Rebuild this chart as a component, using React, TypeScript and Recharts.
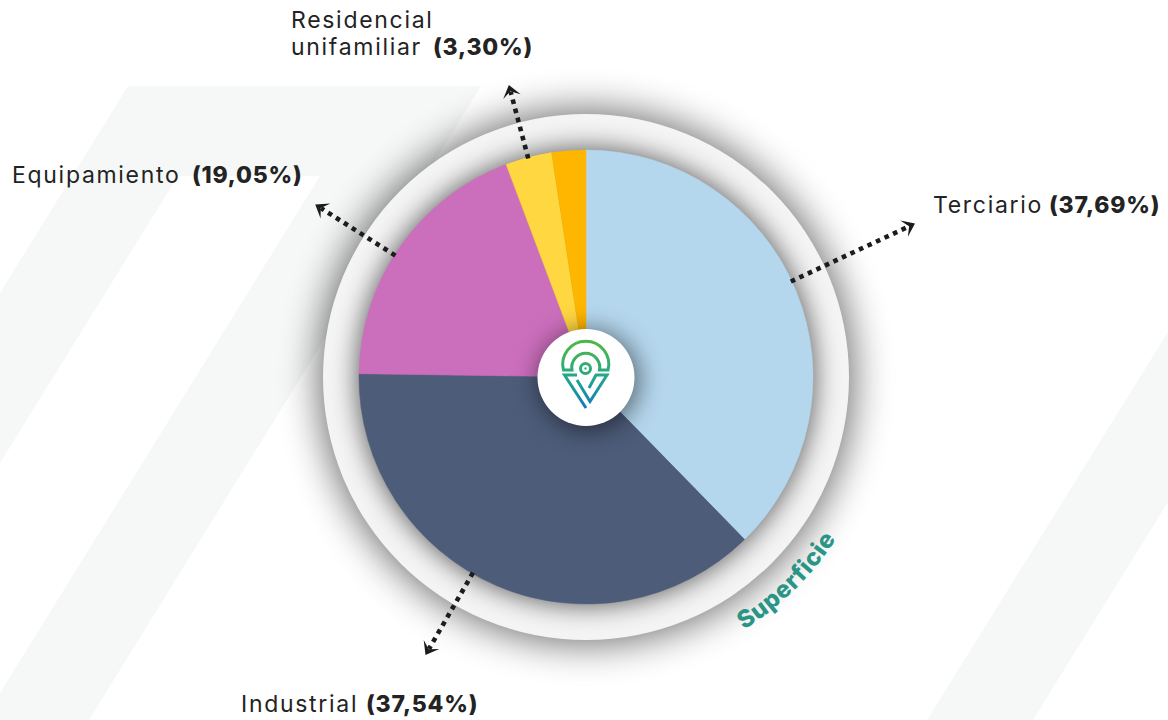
import React from 'react';
import { PieChart, Pie, Cell } from 'recharts';

const sectors = ['Terciario', 'Industrial', 'Equipamiento', 'Residencial unifamiliar', 'Otros'];
const shares = [37.69, 37.54, 19.05, 3.3, 2.42];
const sectorColors = ['#B5D7EE', '#4D5C79', '#CB6EBC', '#FFD740', '#FFB600'];

// Callouts round the pie: angle is clockwise from 12 o'clock
const calloutNames = ['Terciario', 'Industrial', 'Equipamiento', 'unifamiliar'];
const calloutValues = ['(37,69%)', '(37,54%)', '(19,05%)', '(3,30%)'];
const calloutAngles = [65, 210, -57.5, -14.8];
const calloutEnds = [363, 321, 321, 302];
const calloutX = [933, 241, 12, 291];
const calloutValueX = [1049, 366, 192, 433];
const calloutY = [213, 712, 183, 55];

const WIDTH = 1168;
const HEIGHT = 720;
const CX = 586;
const CY = 377;
const PIE_R = 227;
const RING_R = 263;
const HUB_R = 48.5;
const CAPTION_R = 298;

const pieData = sectors.map((name, i) => ({ name, value: shares[i] }));

const polar = (deg: number, r: number) => {
  const a = (deg * Math.PI) / 180;
  return { x: CX + r * Math.sin(a), y: CY - r * Math.cos(a) };
};

const layerStyle: React.CSSProperties = { position: 'absolute', left: 0, top: 0 };
const labelFont = 'Inter, "Noto Sans", sans-serif';

const Background = () => (
  <svg width={WIDTH} height={HEIGHT} style={layerStyle}>
    <defs>
      <filter id="blurOuter" x="-30%" y="-30%" width="160%" height="160%">
        <feGaussianBlur stdDeviation="20" />
      </filter>
      <filter id="blurInner" x="-30%" y="-30%" width="160%" height="160%">
        <feGaussianBlur stdDeviation="13" />
      </filter>
    </defs>
    <rect width={WIDTH} height={HEIGHT} fill="#fff" />
    <path d="M128 86H481L89 720H0V693L320 176H178L0 463V293Z" fill="#F5F8F7" />
    <path d="M1168 332V502L1033 720H927Z" fill="#F5F8F7" />
    <circle cx={CX} cy={CY} r={RING_R + 2} fill="#000" opacity={0.62} filter="url(#blurOuter)" />
    <circle cx={CX} cy={CY} r={RING_R} fill="#F4F4F4" />
    <circle cx={CX} cy={CY} r={PIE_R + 2} fill="#000" opacity={0.6} filter="url(#blurInner)" />
  </svg>
);

const Logo = () => (
  <g fill="none" stroke="url(#logoGrad)" strokeWidth={3} strokeLinejoin="miter">
    <path d="M563.5 370A23 23 0 1 1 608 370H599.5A14 14 0 1 0 572 370Z" />
    <circle cx={585.5} cy={368.5} r={5} />
    <circle cx={585.5} cy={368.5} r={1.2} fill="#3DAE7E" stroke="none" />
    <path d="M577 375H564.5L586 408" />
    <path d="M577 380L590 401.5L607 375H596L589 388" />
  </g>
);

const Overlay = () => {
  const cStart = {
    x: CX + CAPTION_R * Math.cos((58 * Math.PI) / 180),
    y: CY + CAPTION_R * Math.sin((58 * Math.PI) / 180)
  };
  const cEnd = {
    x: CX + CAPTION_R * Math.cos((26 * Math.PI) / 180),
    y: CY + CAPTION_R * Math.sin((26 * Math.PI) / 180)
  };
  return (
    <svg width={WIDTH} height={HEIGHT} style={layerStyle}>
      <defs>
        <filter id="hubShadow" x="-60%" y="-60%" width="220%" height="220%">
          <feGaussianBlur stdDeviation="13" />
        </filter>
        <linearGradient id="logoGrad" gradientUnits="userSpaceOnUse" x1="586" y1="345" x2="586" y2="408">
          <stop offset="0" stopColor="#4CB748" />
          <stop offset="0.55" stopColor="#20A58F" />
          <stop offset="1" stopColor="#1279BE" />
        </linearGradient>
        <path id="captionArc" d={`M${cStart.x} ${cStart.y}A${CAPTION_R} ${CAPTION_R} 0 0 0 ${cEnd.x} ${cEnd.y}`} />
      </defs>

      <circle cx={CX + 3} cy={CY + 3} r={HUB_R + 1} fill="#000" opacity={0.55} filter="url(#hubShadow)" />
      <circle cx={CX} cy={CY + 0.5} r={HUB_R} fill="#fff" />
      <Logo />

      {calloutAngles.map((deg, i) => {
        const from = polar(deg, PIE_R - 1);
        const to = polar(deg, calloutEnds[i] - 7);
        const tip = polar(deg, calloutEnds[i]);
        return (
          <g key={calloutNames[i]}>
            <line
              x1={from.x}
              y1={from.y}
              x2={to.x}
              y2={to.y}
              stroke="#1c1c1c"
              strokeWidth={4.6}
              strokeDasharray="4.6 4.8"
            />
            <path
              d="M0 0L-12 -9Q-9 -4 -6.5 0Q-9 4 -12 9Z"
              fill="#1c1c1c"
              transform={`translate(${tip.x} ${tip.y}) rotate(${deg - 90})`}
            />
          </g>
        );
      })}

      <g fontFamily={labelFont} fontSize={23} fill="#232323">
        <text x={291} y={28} letterSpacing={1.7}>Residencial</text>
        {calloutNames.map((name, i) => (
          <text key={name} y={calloutY[i]} letterSpacing={1.7}>
            <tspan x={calloutX[i]}>{name}</tspan>
            <tspan x={calloutValueX[i]} fontWeight={800} letterSpacing={0.8}>{calloutValues[i]}</tspan>
          </text>
        ))}
      </g>

      <text fontFamily={labelFont} fontSize={24} fontWeight={800} fill="#2A9587" letterSpacing={0.7}>
        <textPath href="#captionArc">Superficie</textPath>
      </text>
    </svg>
  );
};

export default function App() {
  return (
    <div style={{ position: 'absolute', left: 0, top: 0, width: WIDTH, height: HEIGHT, overflow: 'hidden' }}>
      <Background />
      <div style={layerStyle}>
        <PieChart width={WIDTH} height={HEIGHT} margin={{ top: 0, right: 0, bottom: 0, left: 0 }}>
          <Pie
            data={pieData}
            dataKey="value"
            nameKey="name"
            cx={CX}
            cy={CY}
            innerRadius={0}
            outerRadius={PIE_R}
            startAngle={90}
            endAngle={-270}
            isAnimationActive={false}
          >
            {pieData.map((d, i) => (
              <Cell key={d.name} fill={sectorColors[i]} stroke={sectorColors[i]} strokeWidth={0.5} />
            ))}
          </Pie>
        </PieChart>
      </div>
      <Overlay />
    </div>
  );
}
